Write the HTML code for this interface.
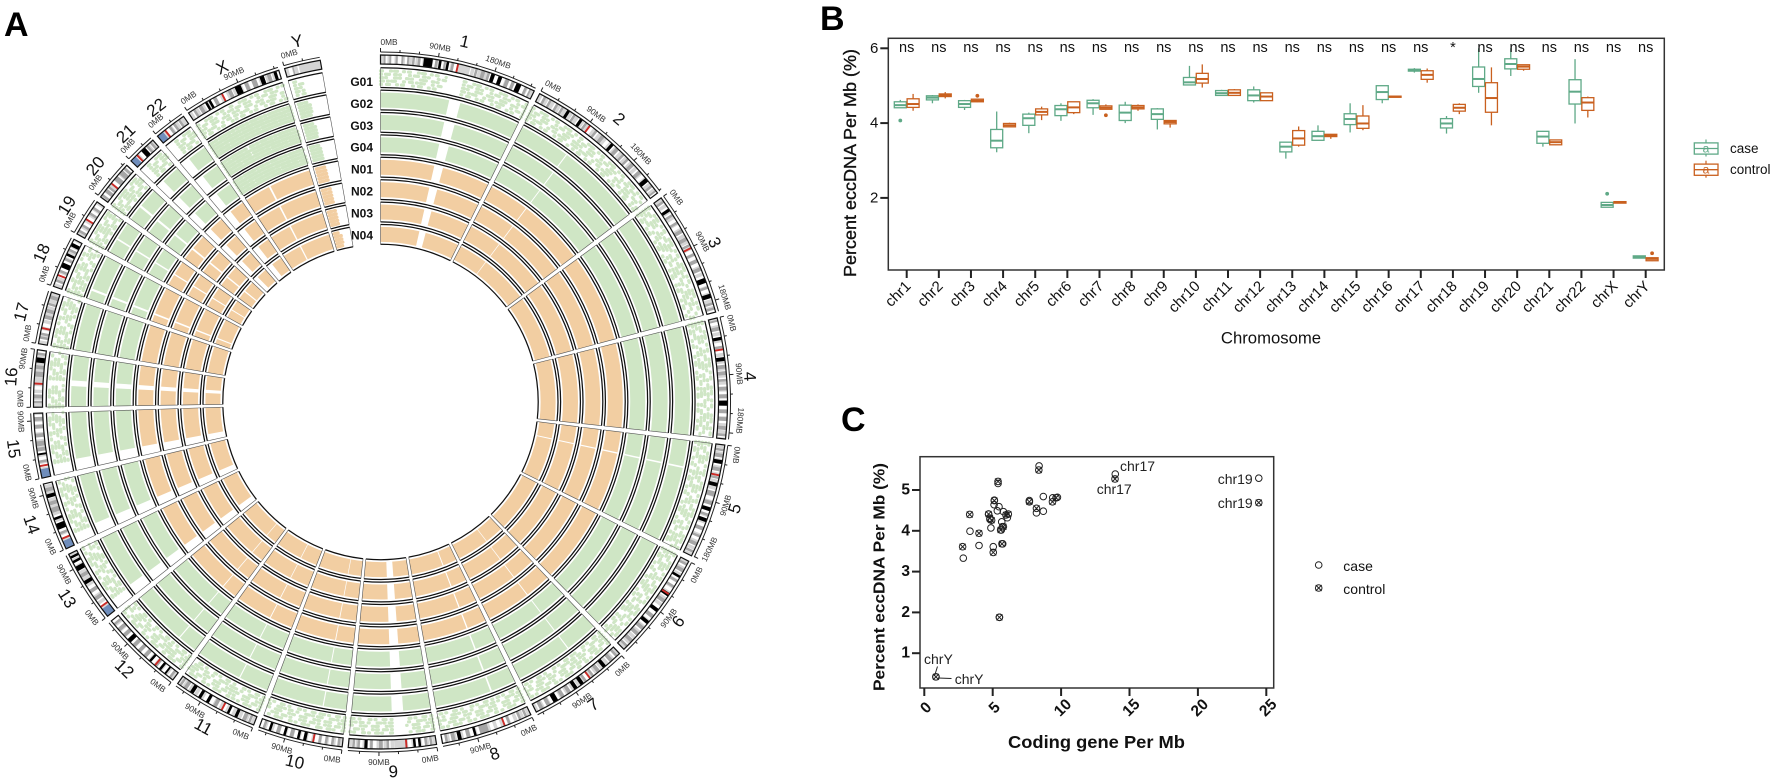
<!DOCTYPE html>
<html lang="en">
<head>
<meta charset="utf-8">
<title>eccDNA circos and chromosome distribution</title>
<style>
html,body{margin:0;padding:0;background:#fff;}
svg{display:block;font-family:"Liberation Sans",Arial,sans-serif;}
</style>
</head>
<body>
<svg id="fig" xmlns="http://www.w3.org/2000/svg" width="1772" height="782" viewBox="0 0 1772 782">
  <rect width="1772" height="782" fill="#fff"/>
  <text x="4" y="36" font-size="34" font-weight="bold" fill="#000">A</text>
  <text x="820" y="30" font-size="34" font-weight="bold" fill="#000">B</text>
  <text x="841" y="431" font-size="34" font-weight="bold" fill="#000">C</text>
  <g id="circos"></g>
  <g id="boxplot"></g>
  <g id="scatter"></g>
</svg>
<script>
/* ---------- Panel A data ---------- */
const chromLabels = ['1','2','3','4','5','6','7','8','9','10','11','12','13','14','15','16','17','18','19','20','21','22','X','Y'];
const chromLengths = [248,242,198,190,181,171,159,145,138,133,135,133,114,107,102,90,83,80,59,64,47,51,156,57];
const trackNames = ['G01','G02','G03','G04','N01','N02','N03','N04'];
const trackGroups = ['g','g','g','g','n','n','n','n'];
const coveredRanges = [
  [[0,121],[141,248]],[[0,90],[92,242]],[[0,198]],[[0,190]],[[0,46],[49,181]],[[0,171]],[[0,58],[60,159]],[[0,43],[46,145]],
  [[0,48],[68,138]],[[0,40],[42,133]],[[0,52],[54,135]],[[0,34],[36,133]],[[19,114]],[[19,107]],[[20,102]],
  [[0,36],[46,90]],[[0,83]],[[0,15],[19,80]],[[0,25],[28,59]],[[0,26],[30,64]],[[14,47]],[[17,51]],[[0,58],[62,156]],[[6,26]]
];
const g01Ranges = [
  [[0,108],[138,248]],[[0,90],[93,242]],[[0,198]],[[0,190]],[[0,46],[50,181]],[[0,171]],[[0,58],[61,159]],[[0,43],[47,145]],
  [[0,44],[68,138]],[[0,40],[42,133]],[[0,52],[55,135]],[[0,34],[37,133]],[[19,114]],[[19,107]],[[20,102]],
  [[0,36],[46,90]],[[0,83]],[[0,15],[19,80]],[[0,25],[28,59]],[[0,26],[30,64]],[[14,47]],[[17,51]],[[0,58],[62,156]],[[8,22]]
];
/* coverage density class per chromosome for each track: 1 dense, 2 medium, 3 sparse */
const densityG01 = [3,3,3,3,3,3,3,3,3,3,3,3,3,3,3,3,3,3,3,3,3,3,3,3];
const densityG   = [1,1,1,1,1,1,1,1,1,1,1,1,1,1,1,1,1,1,1,1,1,1,2,2];
const densityN   = [1,1,1,1,1,1,1,1,1,1,1,1,1,1,1,1,1,1,1,1,1,1,1,2];
const ideoBlack = [
 [[68,82],[92,96],[104,108],[176,182],[188,194],[218,226]],
 [[50,55],[74,79],[136,141],[212,219]],
 [[20,25],[142,150],[168,175]],
 [[30,35],[62,68],[130,138]],
 [[24,30],[60,66],[100,106],[118,124]],
 [[26,30],[58,64],[88,94],[112,118]],
 [[28,34],[72,78],[84,90],[120,128]],
 [[90,94],[114,120]],
 [[24,28],[32,36],[108,113]],
 [[57,62],[68,72],[90,94],[114,118]],
 [[28,33],[42,46],[78,83],[92,97],[106,112]],
 [[14,17],[24,28],[44,48],[88,95]],
 [[60,66],[84,92],[98,102],[106,110]],
 [[32,42],[48,52],[84,90]],
 [[36,39]],
 [[70,78]],
 [],
 [[32,40],[52,56],[68,74]],
 [],
 [],
 [[22,30]],
 [],
 [[30,34],[36,40],[82,92],[124,131],[147,152]],
 []
];
const ideoMid = [
 [[5,8],[14,17],[24,27],[33,36],[42,45],[50,54],[59,63],[86,90],[100,103],[112,116],[150,154],[160,166],[170,174],[200,206],[210,215],[232,236],[240,243]],
 [[8,12],[18,22],[30,34],[40,44],[62,66],[84,88],[104,108],[116,122],[146,152],[160,164],[170,174],[180,186],[196,202],[226,230],[236,239]],
 [[5,9],[30,34],[44,48],[58,64],[72,78],[84,88],[100,104],[110,116],[124,130],[156,160],[182,186],[190,194]],
 [[3,6],[14,20],[44,48],[74,80],[84,90],[96,100],[108,114],[120,126],[144,150],[156,162],[170,176],[182,186]],
 [[6,10],[14,20],[36,42],[50,54],[74,82],[90,96],[110,114],[132,138],[146,150],[158,164],[172,176]],
 [[4,8],[14,20],[34,38],[44,48],[70,76],[100,106],[124,130],[136,142],[150,156],[162,166]],
 [[4,8],[14,20],[40,46],[52,56],[66,70],[96,102],[108,114],[134,140],[146,152]],
 [[6,10],[16,20],[34,38],[70,84],[100,106],[124,130],[136,140]],
 [[6,10],[14,18],[74,78],[84,90],[100,104],[120,124],[128,132]],
 [[4,8],[14,18],[24,28],[34,38],[78,84],[100,106],[124,128]],
 [[6,10],[14,20],[64,70],[118,124],[128,132]],
 [[4,8],[32,36],[54,60],[66,72],[78,84],[100,106],[112,118],[124,128]],
 [[30,36],[44,50],[72,78]],
 [[24,28],[60,68],[72,78],[94,100]],
 [[24,28],[42,48],[50,58],[64,70],[78,84],[90,96]],
 [[6,10],[14,20],[48,56],[60,66],[82,86]],
 [[8,12],[14,18],[40,46],[50,56],[62,66],[72,78]],
 [[8,12],[24,28],[44,48],[60,64]],
 [[4,8],[14,18],[36,40],[46,50]],
 [[2,6],[10,16],[18,22],[34,42],[46,54],[56,60]],
 [[32,36],[40,44]],
 [[22,26],[30,34],[40,44]],
 [[8,12],[18,24],[44,50],[70,76],[98,104],[110,118],[136,142]],
 [[12,14]]
];
const ideoPale = [[[125,142]],[],[],[],[],[],[],[],[[48,66]],[],[],[],[],[],[],[[38,46]],[],[],[],[],[],[],[],[[16,20],[24,57]]];
const ideoCentromere = [122,93,91,50,48,60,60,44,47,46,55,36,18,17,19,37,25,19,27,27,13,15,60,null];
const ideoStalk = [null,null,null,null,null,null,null,null,null,null,null,null,[0,14],[0,13],[0,14],null,null,null,null,null,[0,10],[0,11],null,null];
const axisMajorMb = [0,90,180];
const axisMinorStepMb = 30;

/* ---------- Panel B data: [low whisker, q1, median, q3, high whisker] ---------- */
const boxCategories = ['chr1','chr2','chr3','chr4','chr5','chr6','chr7','chr8','chr9','chr10','chr11','chr12','chr13','chr14','chr15','chr16','chr17','chr18','chr19','chr20','chr21','chr22','chrX','chrY'];
const caseBoxes = [
 [4.41,4.41,4.48,4.57,4.62],[4.53,4.62,4.68,4.73,4.75],[4.35,4.42,4.51,4.60,4.62],[3.22,3.34,3.53,3.83,4.31],
 [3.73,3.94,4.13,4.24,4.28],[4.06,4.20,4.37,4.47,4.53],[4.22,4.41,4.53,4.61,4.64],[4.00,4.07,4.28,4.48,4.57],
 [3.83,4.10,4.24,4.38,4.40],[5.02,5.02,5.09,5.22,5.53],[4.73,4.74,4.80,4.87,4.89],[4.55,4.60,4.74,4.89,4.98],
 [3.05,3.23,3.37,3.49,3.49],[3.54,3.54,3.65,3.78,3.94],[3.75,3.96,4.11,4.25,4.53],[4.53,4.63,4.83,5.00,5.00],
 [5.35,5.39,5.41,5.44,5.47],[3.72,3.87,3.99,4.12,4.19],[4.81,4.98,5.18,5.50,6.00],[5.26,5.45,5.58,5.72,6.00],
 [3.37,3.46,3.64,3.78,3.79],[3.99,4.51,4.84,5.16,5.71],[1.75,1.75,1.81,1.88,1.89],[0.39,0.39,0.42,0.45,0.46]
];
const controlBoxes = [
 [4.33,4.42,4.51,4.65,4.78],[4.66,4.71,4.74,4.78,4.83],[4.56,4.57,4.60,4.64,4.65],[3.89,3.90,3.94,3.99,4.01],
 [4.08,4.22,4.30,4.38,4.44],[4.24,4.28,4.42,4.57,4.57],[4.37,4.37,4.41,4.46,4.50],[4.33,4.38,4.42,4.47,4.50],
 [3.88,3.98,4.03,4.07,4.08],[4.95,5.07,5.18,5.33,5.57],[4.73,4.74,4.81,4.89,4.91],[4.59,4.60,4.71,4.81,4.81],
 [3.37,3.41,3.59,3.80,3.91],[3.58,3.64,3.67,3.70,3.71],[3.81,3.86,3.99,4.19,4.48],[4.69,4.69,4.71,4.72,4.73],
 [5.08,5.17,5.29,5.40,5.46],[4.24,4.32,4.41,4.50,4.53],[3.94,4.29,4.67,5.08,5.49],[5.40,5.44,5.51,5.56,5.56],
 [3.41,3.42,3.49,3.55,3.55],[4.15,4.34,4.55,4.68,4.71],[1.85,1.86,1.88,1.90,1.91],[0.31,0.32,0.37,0.40,0.41]
];
const caseOutlierChrom = ['chr1','chrX'];
const caseOutlierValues = [4.07,2.11];
const controlOutlierChrom = ['chr3','chr7','chrY'];
const controlOutlierValues = [4.73,4.21,0.52];
const significance = ['ns','ns','ns','ns','ns','ns','ns','ns','ns','ns','ns','ns','ns','ns','ns','ns','ns','*','ns','ns','ns','ns','ns','ns'];
const boxYTicks = [2,4,6];

/* ---------- Panel C data ---------- */
const caseGeneDensity = [2.85,3.34,4.0,4.87,5.04,5.12,5.1,5.39,5.46,5.34,5.78,5.66,5.71,5.63,5.73,6.07,5.49,8.39,7.68,8.7,8.2,8.7,9.39,9.73,13.96,4.7,4.8,0.85,24.45];
const casePercent = [3.33,3.99,3.64,4.07,3.61,4.75,4.64,5.16,4.59,4.49,4.47,4.22,4.10,4.02,3.68,4.32,1.88,5.59,4.74,4.84,4.44,4.48,4.81,4.82,5.39,4.41,4.28,0.42,5.29];
const controlGeneDensity = [2.8,3.32,4.0,5.04,5.12,5.39,4.7,4.8,4.92,5.58,5.78,5.68,5.97,6.14,5.49,8.37,7.68,8.2,9.37,9.63,13.94,0.85,24.45];
const controlPercent = [3.61,4.40,3.94,3.47,4.74,5.21,4.41,4.31,4.26,4.02,4.10,3.68,4.39,4.41,1.88,5.49,4.71,4.55,4.71,4.81,5.27,0.42,4.69];
const scatterXTicks = [0,5,10,15,20,25];
const scatterYTicks = [1,2,3,4,5];

/* ---------- helpers ---------- */
const NS = 'http://www.w3.org/2000/svg';
function mk(tag, attrs, parent, text) {
  const el = document.createElementNS(NS, tag);
  for (const k in attrs) el.setAttribute(k, attrs[k]);
  if (text !== undefined) el.textContent = text;
  parent.appendChild(el);
  return el;
}

/* ---------- Panel A ---------- */
const cx = 380.5, cy = 402;
const sectorGap = 1, totalSweep = 350;
const totalMb = chromLengths.reduce((a, b) => a + b, 0);
const degPerMb = (totalSweep - sectorGap * (chromLengths.length - 1)) / totalMb;
const GREEN = '#cfe6c5', ORANGE = '#f2cea2';
const axisR = 350, ideoOuter = 347, ideoInner = 338, firstTrackOuter = 334.3, trackStep = 22.4, trackHeight = 19.8;

function pol(r, deg) {
  const a = deg * Math.PI / 180;
  return [cx + r * Math.sin(a), cy - r * Math.cos(a)];
}
function arcD(r, a0, a1) {
  const p0 = pol(r, a0), p1 = pol(r, a1);
  return 'M' + p0[0].toFixed(2) + ' ' + p0[1].toFixed(2) + 'A' + r + ' ' + r + ' 0 ' + (a1 - a0 > 180 ? 1 : 0) + ' 1 ' + p1[0].toFixed(2) + ' ' + p1[1].toFixed(2);
}
function boxD(rOut, rIn, a0, a1) {
  const a = pol(rOut, a0), b = pol(rOut, a1), c = pol(rIn, a1), d = pol(rIn, a0);
  return 'M' + a[0].toFixed(2) + ' ' + a[1].toFixed(2) + 'A' + rOut + ' ' + rOut + ' 0 0 1 ' + b[0].toFixed(2) + ' ' + b[1].toFixed(2) +
    'L' + c[0].toFixed(2) + ' ' + c[1].toFixed(2) + 'A' + rIn + ' ' + rIn + ' 0 0 0 ' + d[0].toFixed(2) + ' ' + d[1].toFixed(2) + 'Z';
}
function sideD(rOut, rIn, a0, a1) {
  const a = pol(rOut, a0), b = pol(rOut, a1), c = pol(rIn, a1), d = pol(rIn, a0);
  return 'M' + a[0].toFixed(2) + ' ' + a[1].toFixed(2) + 'L' + d[0].toFixed(2) + ' ' + d[1].toFixed(2) +
    'M' + b[0].toFixed(2) + ' ' + b[1].toFixed(2) + 'L' + c[0].toFixed(2) + ' ' + c[1].toFixed(2);
}
function isFlipped(deg) { return deg > 100 && deg < 270; }
function facing(deg) { return isFlipped(deg) ? deg - 180 : deg; }

const circos = document.getElementById('circos');
const ringStyles = {
  2: [[0.1,'5 1.5 3 2 7 1',3.4],[0.3,'4 2 6 1 3 3',3.4],[0.5,'6 1 4 2.5 3 1',3.4],[0.7,'3 2 8 1.5 4 2',3.4],[0.9,'4 2.5 2 3 6 2',3.4]],
  3: [[0.1,'1 5 3 7 1 4 2 9',3.2],[0.3,'3 4 1 3 4 8 1 5',3.2],[0.5,'2 3 1 8 3 2 1 6',3.2],[0.7,'1 4 4 5 2 3 1 9',3.2],[0.9,'2 8 1 3 3 6 1 4',3.2]]
};
let startDeg = 0;
chromLengths.forEach(function (len, ci) {
  const name = chromLabels[ci];
  const a0 = startDeg, a1 = a0 + len * degPerMb;
  const mbDeg = function (mb) { return a0 + mb * degPerMb; };
  const sector = mk('g', {}, circos);
  
  

  /* axis */
  const axis = mk('path', {d: arcD(axisR, a0, a1), fill: 'none', stroke: '#222', 'stroke-width': 1}, sector);
  
  
  for (let mb = 0; mb <= len; mb += axisMinorStepMb) {
    const major = axisMajorMb.indexOf(mb) >= 0;
    const p = pol(axisR, mbDeg(mb)), q = pol(axisR + (major ? 4 : 2.5), mbDeg(mb));
    const tick = mk('line', {x1: p[0], y1: p[1], x2: q[0], y2: q[1], stroke: '#222', 'stroke-width': 1}, sector);
    
    
    if (major) {
      const deg = mbDeg(mb);
      const t = pol(360, deg);
      const rot = facing(deg);
      const lower = isFlipped(deg);
      let anchor = 'middle';
      if (mb === 0) anchor = lower ? 'end' : 'start';
      else if (len - mb < 12) anchor = lower ? 'start' : 'end';
      const lab = mk('text', {x: t[0], y: t[1], 'font-size': 8.3, fill: '#333', 'text-anchor': anchor, 'dominant-baseline': 'central',
        transform: 'rotate(' + rot.toFixed(2) + ' ' + t[0].toFixed(2) + ' ' + t[1].toFixed(2) + ')'}, sector, mb + 'MB');
      
      
    }
  }

  /* chromosome label */
  const mid = (a0 + a1) / 2;
  const lp = pol(370, mid);
  const clab = mk('text', {x: lp[0], y: lp[1], 'font-size': 17, fill: '#111', 'text-anchor': 'middle', 'dominant-baseline': 'central',
    transform: 'rotate(' + facing(mid).toFixed(2) + ' ' + lp[0].toFixed(2) + ' ' + lp[1].toFixed(2) + ')'}, sector, name);
  
  

  /* ideogram */
  const rMid = (ideoOuter + ideoInner) / 2, ideoW = ideoOuter - ideoInner;
  const base = mk('path', {d: arcD(rMid, a0, a1), fill: 'none', stroke: '#d6d6d6', 'stroke-width': ideoW, 'stroke-dasharray': '3.5 3.5'}, sector);
  
  
  function bands(list, color, label) {
    list.forEach(function (b) {
      const el = mk('path', {d: arcD(rMid, mbDeg(b[0]), mbDeg(b[1])), fill: 'none', stroke: color, 'stroke-width': ideoW}, sector);
      
      
    });
  }
  bands(ideoPale[ci], '#d4d4d4', 'ideogram-pale-band');
  bands(ideoMid[ci], '#a6a6a6', 'ideogram-mid-band');
  bands(ideoBlack[ci], '#000', 'ideogram-black-band');
  if (ideoStalk[ci]) bands([ideoStalk[ci]], '#6f8dbb', 'ideogram-stalk');
  if (ideoCentromere[ci] !== null) bands([[ideoCentromere[ci] - 1.5, ideoCentromere[ci] + 1.5]], '#cc2b27', 'ideogram-centromere');
  const ideoBox = mk('path', {d: boxD(ideoOuter, ideoInner, a0, a1), fill: 'none', stroke: '#111', 'stroke-width': 1.2}, sector);
  
  

  /* tracks */
  trackNames.forEach(function (tn, ti) {
    const rOut = firstTrackOuter - trackStep * ti, rIn = rOut - trackHeight;
    const color = trackGroups[ti] === 'g' ? GREEN : ORANGE;
    const dens = ti === 0 ? densityG01[ci] : (trackGroups[ti] === 'g' ? densityG[ci] : densityN[ci]);
    const ranges = ti === 0 ? g01Ranges[ci] : coveredRanges[ci];
    ranges.forEach(function (rg) {
      if (dens === 1) {
        const band = mk('path', {d: arcD(rIn + trackHeight / 2, mbDeg(rg[0]), mbDeg(rg[1])), fill: 'none', stroke: color, 'stroke-width': 15}, sector);
        
        
      } else {
        ringStyles[dens].forEach(function (ring) {
          const dots = mk('path', {d: arcD(rIn + 1.5 + ring[0] * (trackHeight - 3), mbDeg(rg[0]), mbDeg(rg[1])), fill: 'none', stroke: color, 'stroke-width': ring[2], 'stroke-dasharray': ring[1], 'stroke-linecap': 'round'}, sector);
          
          
        });
      }
    });
    const outerArc = mk('path', {d: arcD(rOut, a0, a1) + arcD(rIn, a0, a1), fill: 'none', stroke: '#111', 'stroke-width': 1.25}, sector);
    
    
    const sides = mk('path', {d: sideD(rOut, rIn, a0, a1), fill: 'none', stroke: '#555', 'stroke-width': 0.6}, sector);
    
    
  });
  startDeg = a1 + sectorGap;
});
trackNames.forEach(function (tn, ti) {
  const tl = mk('text', {x: 373, y: 82 + 21.9 * ti, 'font-size': 12, 'font-weight': 'bold', fill: '#111', 'text-anchor': 'end', 'dominant-baseline': 'central'}, circos, tn);
  
  
});

/* ---------- Panel B ---------- */
const box = document.getElementById('boxplot');
const CASE = '#5fa987', CTRL = '#c9601f', FRAME = '#333';
const bY = function (v) { return 48.3 + (6 - v) * 37.4; };
const bX = function (i) { return 906.7 + i * 32.13; };
const bLeft = 888.3, bRight = 1664.3, bTop = 38.3, bBottom = 270;
const bFrame = mk('rect', {x: bLeft, y: bTop, width: bRight - bLeft, height: bBottom - bTop, fill: 'none', stroke: FRAME, 'stroke-width': 1.5}, box);


boxYTicks.forEach(function (v) {
  const tk = mk('line', {x1: bLeft - 8, x2: bLeft, y1: bY(v), y2: bY(v), stroke: '#222', 'stroke-width': 2}, box);
  
  
  const tl = mk('text', {x: bLeft - 10, y: bY(v), 'font-size': 15, 'text-anchor': 'end', 'dominant-baseline': 'central', fill: '#111'}, box, v);
  
  
});
function drawBox(stats, x, color, label) {
  const g = mk('g', {}, box);
  
  
  const w = mk('line', {x1: x, x2: x, y1: bY(stats[0]), y2: bY(stats[4]), stroke: color, 'stroke-width': 1.3}, g);
  
  
  const r = mk('rect', {x: x - 6, width: 12, y: bY(stats[3]), height: Math.max(bY(stats[1]) - bY(stats[3]), 0.5), fill: '#fff', stroke: color, 'stroke-width': 1.3}, g);
  
  
  const m = mk('line', {x1: x - 6, x2: x + 6, y1: bY(stats[2]), y2: bY(stats[2]), stroke: color, 'stroke-width': 2}, g);
  
  
}
boxCategories.forEach(function (c, i) {
  drawBox(caseBoxes[i], bX(i) - 6.4, CASE, 'box-case-' + c);
  drawBox(controlBoxes[i], bX(i) + 6.4, CTRL, 'box-control-' + c);
  const tk = mk('line', {x1: bX(i), x2: bX(i), y1: bBottom, y2: bBottom + 8, stroke: '#222', 'stroke-width': 2}, box);
  
  
  const lx = bX(i) + 5, ly = bBottom + 17;
  const tl = mk('text', {x: lx, y: ly, 'font-size': 15, 'text-anchor': 'end', fill: '#111', transform: 'rotate(-45 ' + lx + ' ' + ly + ')'}, box, c);
  
  
  const sig = mk('text', {x: bX(i), y: 48, 'font-size': 14.5, 'text-anchor': 'middle', 'dominant-baseline': 'central', fill: '#111'}, box, significance[i]);
  
  
});
caseOutlierChrom.forEach(function (c, i) {
  const o = mk('circle', {cx: bX(boxCategories.indexOf(c)) - 6.4, cy: bY(caseOutlierValues[i]), r: 1.9, fill: CASE}, box);
  
  
});
controlOutlierChrom.forEach(function (c, i) {
  const o = mk('circle', {cx: bX(boxCategories.indexOf(c)) + 6.4, cy: bY(controlOutlierValues[i]), r: 1.9, fill: CTRL}, box);
  
  
});
const bYTitle = mk('text', {x: 0, y: 0, 'font-size': 17.2, 'text-anchor': 'middle', 'dominant-baseline': 'central', fill: '#111', stroke: '#111', 'stroke-width': 0.35, textLength: 228, lengthAdjust: 'spacingAndGlyphs', transform: 'translate(850 163) rotate(-90)'}, box, 'Percent eccDNA Per Mb (%)');


const bXTitle = mk('text', {x: 1271, y: 338, 'font-size': 16.7, 'text-anchor': 'middle', 'dominant-baseline': 'central', fill: '#111'}, box, 'Chromosome');



const legendEntries = ['case', 'control'];
const legendColors = [CASE, CTRL];
legendEntries.forEach(function (name, i) {
  const y = 148.5 + i * 21.2, col = legendColors[i];
  const g = mk('g', {}, box);
  
  
  const w = mk('line', {x1: 1706, x2: 1706, y1: y - 9, y2: y + 8, stroke: col, 'stroke-width': 1.2}, g);
  
  
  const r = mk('rect', {x: 1694.3, y: y - 5.6, width: 23.7, height: 11.2, fill: '#fff', stroke: col, 'stroke-width': 1.3}, g);
  
  
  const m = mk('line', {x1: 1694.3, x2: 1718, y1: y, y2: y, stroke: col, 'stroke-width': 1.3}, g);
  
  
  const a = mk('text', {x: 1706, y: y, 'font-size': 12, 'text-anchor': 'middle', 'dominant-baseline': 'central', fill: col}, g, 'a');
  
  
  const t = mk('text', {x: 1730, y: y, 'font-size': 13.5, 'dominant-baseline': 'central', fill: '#111'}, g, name);
  
  
});

/* ---------- Panel C ---------- */
const sc = document.getElementById('scatter');
const sX = function (v) { return 924.3 + 13.68 * v; };
const sY = function (v) { return 490 + (5 - v) * 40.8; };
const sLeft = 920, sRight = 1273.7, sTop = 456.7, sBottom = 688;
const sFrame = mk('rect', {x: sLeft, y: sTop, width: sRight - sLeft, height: sBottom - sTop, fill: 'none', stroke: FRAME, 'stroke-width': 1.5}, sc);


scatterYTicks.forEach(function (v) {
  const tk = mk('line', {x1: sLeft - 8, x2: sLeft, y1: sY(v), y2: sY(v), stroke: '#222', 'stroke-width': 2}, sc);
  
  
  const tl = mk('text', {x: sLeft - 10, y: sY(v), 'font-size': 15.5, 'font-weight': 'bold', 'text-anchor': 'end', 'dominant-baseline': 'central', fill: '#111'}, sc, v);
  
  
});
scatterXTicks.forEach(function (v) {
  const tk = mk('line', {x1: sX(v), x2: sX(v), y1: sBottom, y2: sBottom + 8, stroke: '#222', 'stroke-width': 2}, sc);
  
  
  const lx = sX(v) + 2, ly = sBottom + 20;
  const tl = mk('text', {x: lx, y: ly, 'font-size': 15.5, 'font-weight': 'bold', 'text-anchor': 'middle', 'dominant-baseline': 'central', fill: '#111', transform: 'rotate(-45 ' + lx + ' ' + ly + ')'}, sc, v);
  
  
});
function marker(parent, x, y, crossed, name) {
  const c = mk('circle', {cx: x, cy: y, r: 3.3, fill: 'none', stroke: '#222', 'stroke-width': 1}, parent);
  
  
  if (crossed) {
    const xm = mk('path', {d: 'M' + (x - 3) + ' ' + (y - 3) + 'L' + (x + 3) + ' ' + (y + 3) + 'M' + (x + 3) + ' ' + (y - 3) + 'L' + (x - 3) + ' ' + (y + 3), stroke: '#222', 'stroke-width': 1, fill: 'none'}, parent);
    
    
  }
}
casePercent.forEach(function (v, i) { marker(sc, sX(caseGeneDensity[i]), sY(v), false, 'point-case'); });
controlPercent.forEach(function (v, i) { marker(sc, sX(controlGeneDensity[i]), sY(v), true, 'point-control'); });

const pointLabelText = ['chr17', 'chr17', 'chr19', 'chr19', 'chrY', 'chrY'];
const pointLabelSide = ['case', 'control', 'case', 'control', 'case', 'control'];
[[1120,466],[1096.7,489],[1217.7,479],[1217.7,503],[924,659],[954.7,679]].forEach(function (p, i) {
  const t = mk('text', {x: p[0], y: p[1], 'font-size': 14, 'dominant-baseline': 'central', fill: '#222'}, sc, pointLabelText[i]);
  
  
});
const lead1 = mk('line', {x1: 937.5, y1: 666.5, x2: 934.5, y2: 676, stroke: '#222', 'stroke-width': 1}, sc);


const lead2 = mk('line', {x1: 938, y1: 678, x2: 951.5, y2: 678.5, stroke: '#222', 'stroke-width': 1}, sc);



const sYTitle = mk('text', {x: 0, y: 0, 'font-size': 16, 'font-weight': 'bold', 'text-anchor': 'middle', 'dominant-baseline': 'central', fill: '#111', textLength: 228, lengthAdjust: 'spacingAndGlyphs', transform: 'translate(880 577) rotate(-90)'}, sc, 'Percent eccDNA Per Mb (%)');


const sXTitle = mk('text', {x: 1096.5, y: 742, 'font-size': 17.5, 'font-weight': 'bold', 'text-anchor': 'middle', 'dominant-baseline': 'central', fill: '#111', textLength: 177, lengthAdjust: 'spacingAndGlyphs'}, sc, 'Coding gene Per Mb');



legendEntries.forEach(function (name, i) {
  const y = 565 + i * 23;
  const g = mk('g', {}, sc);
  
  
  marker(g, 1318.7, y, i === 1, 'legend-marker');
  const t = mk('text', {x: 1343.3, y: y + 1, 'font-size': 14, 'dominant-baseline': 'central', fill: '#111'}, g, name);
  
  
});
</script>
</body>
</html>
